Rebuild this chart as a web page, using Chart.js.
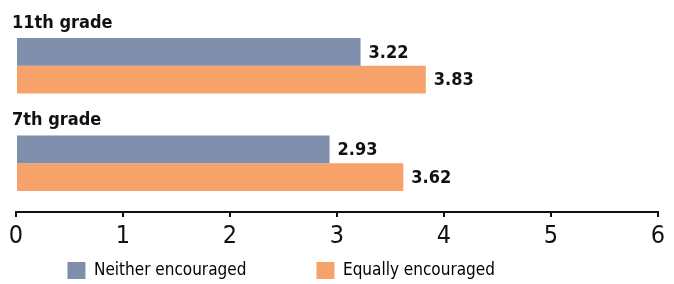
<!DOCTYPE html>
<html>
<head>
<meta charset="utf-8">
<script src="https://cdn.jsdelivr.net/npm/chart.js@4"></script>
<style>
  body { margin: 0; background: #fff; }
  #wrap { width: 674px; height: 284px; position: relative; }
</style>
</head>
<body>
<div id="wrap"><canvas id="myChart"></canvas></div>
<script>
const grades = ['11th grade', '7th grade'];
const neitherValues = [3.22, 2.93];
const equallyValues = [3.83, 3.62];
const xTicks = [0, 1, 2, 3, 4, 5, 6];

const FONT = '"DejaVu Sans Condensed", "DejaVu Sans", sans-serif';

// value labels at bar ends + grade names above each group
const labelPlugin = {
    id: 'barLabels',
    afterDatasetsDraw(chart) {
        const ctx = chart.ctx;
        ctx.save();
        ctx.fillStyle = '#111';
        ctx.font = 'condensed bold 18px ' + FONT;
        ctx.textBaseline = 'middle';
        ctx.textAlign = 'left';
        chart.data.datasets.forEach((ds, di) => {
            chart.getDatasetMeta(di).data.forEach((bar, i) => {
                ctx.fillText(ds.data[i].toFixed(2), bar.x + 8, bar.y + 1);
            });
        });
        const first = chart.getDatasetMeta(0).data;
        ctx.font = 'condensed bold 18px ' + FONT;
        ctx.textBaseline = 'alphabetic';
        first.forEach((bar, i) => {
            ctx.fillText(chart.data.labels[i], bar.base - 5, bar.y - bar.height / 2 - 10);
        });
        ctx.restore();
    }
};

new Chart(document.getElementById('myChart').getContext('2d'), {
    type: 'bar',
    data: {
        labels: grades,
        datasets: [
            {
                label: 'Neither encouraged',
                data: neitherValues,
                backgroundColor: '#7f8fab',
                categoryPercentage: 0.57,
                barPercentage: 1.0,
            },
            {
                label: 'Equally encouraged',
                data: equallyValues,
                backgroundColor: '#f7a26b',
                categoryPercentage: 0.57,
                barPercentage: 1.0,
            },
        ]
    },
    options: {
        indexAxis: 'y',
        responsive: true,
        maintainAspectRatio: false,
        animation: false,
        layout: { padding: { left: 16, right: 16, top: 17, bottom: -5 } },
        scales: {
            x: {
                min: 0,
                max: 6,
                afterBuildTicks: axis => { axis.ticks = xTicks.map(v => ({ value: v })); },
                border: { display: true, color: '#111', width: 2 },
                grid: { display: true, drawOnChartArea: false, drawTicks: true, tickLength: 5, color: '#111', lineWidth: 2 },
                ticks: { color: '#111', font: { family: FONT, size: 25, style: 'condensed' }, padding: 4 },
            },
            y: { display: false }
        },
        plugins: {
            legend: {
                position: 'bottom',
                labels: {
                    boxWidth: 18,
                    boxHeight: 17,
                    padding: 7,
                    color: '#222',
                    font: { family: FONT, size: 17, style: 'condensed' },
                    generateLabels: chart => chart.data.datasets.map((ds, i) => ({
                        text: i === 0 ? ds.label + '             ' : ds.label + '                       ',
                        fillStyle: ds.backgroundColor,
                        strokeStyle: ds.backgroundColor,
                        lineWidth: 0,
                        datasetIndex: i,
                    })),
                }
            },
            tooltip: { enabled: false },
        },
    },
    plugins: [labelPlugin],
});
</script>
</body>
</html>
